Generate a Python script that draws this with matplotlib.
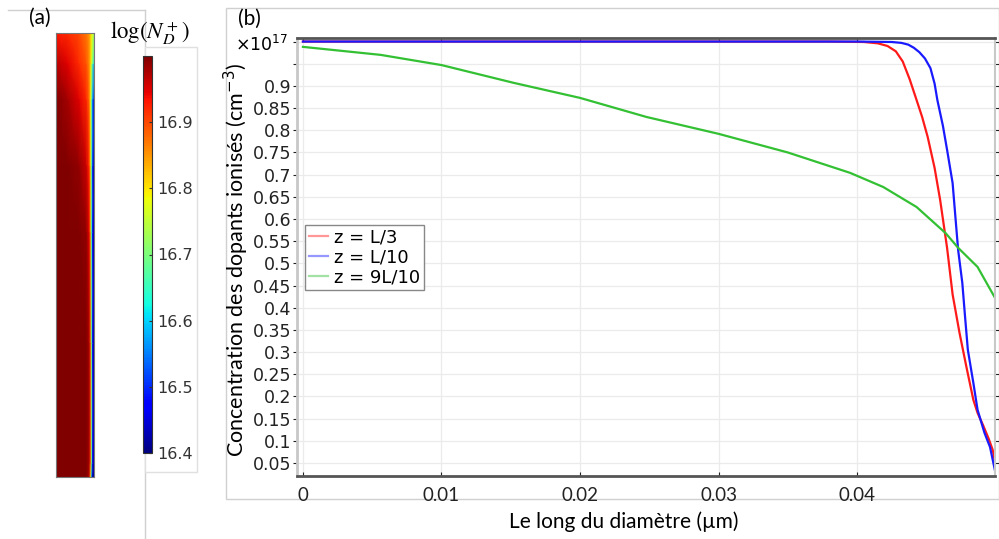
import matplotlib
matplotlib.use("Agg")
import matplotlib.pyplot as plt
from matplotlib.patches import Rectangle
from matplotlib.lines import Line2D

# ---- panel (b) profiles (x in um, y in 1e17 cm^-3) ----
x_red = [0, 0.01, 0.02, 0.03, 0.038, 0.0405, 0.0415, 0.0422, 0.0428, 0.0433, 0.0438,
         0.0443, 0.0447, 0.0451, 0.0456, 0.0460, 0.0465, 0.0469, 0.0474, 0.0479,
         0.0484, 0.0487, 0.0491, 0.0495, 0.0498, 0.0500]
y_red = [1.0, 1.0, 1.0, 1.0, 1.0, 0.999, 0.996, 0.99, 0.978, 0.955, 0.915,
         0.868, 0.83, 0.785, 0.715, 0.643, 0.535, 0.43, 0.343, 0.266,
         0.192, 0.163, 0.135, 0.105, 0.079, 0.045]

x_blue = [0, 0.01, 0.02, 0.03, 0.04, 0.0425, 0.0432, 0.0437, 0.0441, 0.0445, 0.0449,
          0.0453, 0.0456, 0.0458, 0.0462, 0.0465, 0.0469, 0.0471, 0.0473, 0.0476,
          0.0478, 0.0480, 0.0484, 0.0487, 0.0492, 0.0496, 0.0500]
y_blue = [1.0, 1.0, 1.0, 1.0, 1.0, 0.999, 0.997, 0.993, 0.986, 0.976, 0.962,
          0.94, 0.905, 0.868, 0.81, 0.756, 0.681, 0.605, 0.53, 0.456,
          0.379, 0.305, 0.23, 0.17, 0.118, 0.086, 0.027]

x_green = [0, 0.0056, 0.01, 0.0152, 0.02, 0.0248, 0.03, 0.035, 0.0395, 0.0419,
           0.0443, 0.0464, 0.0473, 0.0487, 0.0500]
y_green = [0.988, 0.970, 0.947, 0.907, 0.873, 0.830, 0.792, 0.750, 0.704, 0.672,
           0.627, 0.568, 0.535, 0.492, 0.42]

labels = ["z = L/3", "z = L/10", "z = 9L/10"]
x_ticks = [0, 0.01, 0.02, 0.03, 0.04]
x_tick_labels = ["0", "0.01", "0.02", "0.03", "0.04"]
y_ticks = [0.05, 0.1, 0.15, 0.2, 0.25, 0.3, 0.35, 0.4, 0.45, 0.5, 0.55, 0.6,
           0.65, 0.7, 0.75, 0.8, 0.85, 0.9, 0.95, 1.0]
y_tick_labels = ["0.05", "0.1", "0.15", "0.2", "0.25", "0.3", "0.35", "0.4", "0.45",
                 "0.5", "0.55", "0.6", "0.65", "0.7", "0.75", "0.8", "0.85", "0.9",
                 "", ""]

# ---- panel (a) field log10(N_D+), coarse grid ----
field_r = [0, 0.3, 0.6, 0.8, 0.87, 0.91, 0.94, 0.97, 1.0]
field_z = [1.0, 0.93, 0.85, 0.7, 0.55, 0.3, 0.03, 0.0]   # 1 = top of the wire
field_log = [
    [16.93, 16.92, 16.90, 16.87, 16.85, 16.82, 16.80, 16.78, 16.76],
    [16.97, 16.95, 16.92, 16.89, 16.86, 16.82, 16.76, 16.68, 16.60],
    [17.00, 16.98, 16.95, 16.92, 16.88, 16.80, 16.68, 16.55, 16.45],
    [17.00, 17.00, 16.99, 16.96, 16.92, 16.82, 16.68, 16.50, 16.40],
    [17.00, 17.00, 17.00, 16.99, 16.95, 16.85, 16.66, 16.48, 16.40],
    [17.00, 17.00, 17.00, 17.00, 16.98, 16.90, 16.70, 16.48, 16.40],
    [17.00, 17.00, 17.00, 17.00, 16.98, 16.90, 16.70, 16.48, 16.40],
    [17.00, 17.00, 17.00, 17.00, 16.97, 16.80, 16.55, 16.42, 16.40],
]
cbar_ticks = [16.4, 16.5, 16.6, 16.7, 16.8, 16.9]

W, H = 999, 539


def box(x0, y0, x1, y1):
    # pixel box (top-left origin) -> figure fraction rect
    return [x0 / W, 1 - y1 / H, (x1 - x0) / W, (y1 - y0) / H]


fig = plt.figure(figsize=(W / 100, H / 100), dpi=100)
fig.patch.set_facecolor("white")

frame_col = "#d0d0d0"
# panel frames (behind the axes)
fig.add_artist(Line2D([8 / W, 145 / W], [1 - 10 / H, 1 - 10 / H], color=frame_col,
                      lw=1, zorder=-2))
fig.add_artist(Line2D([145 / W, 145 / W], [1 - 10 / H, 0], color=frame_col, lw=1,
                      zorder=-2))
fig.add_artist(Rectangle((226 / W, 1 - 499 / H), (999 - 226) / W, (499 - 8) / H,
                         transform=fig.transFigure, fill=False, ec=frame_col, lw=1,
                         zorder=-2))
fig.add_artist(Rectangle((145 / W, 1 - 472 / H), 52 / W, 425 / H,
                         transform=fig.transFigure, fill=True, fc="white",
                         ec="#e0e0e0", lw=1, zorder=-1))

# -------------------------------
# Panel (a): field map + colorbar
# -------------------------------
ax_a = fig.add_axes(box(56, 33, 94, 477))
mesh = ax_a.pcolormesh(field_r, field_z, field_log, shading="gouraud",
                       cmap="jet", vmin=16.4, vmax=17.0)
ax_a.set_xlim(0, 1)
ax_a.set_ylim(0, 1)
ax_a.set_xticks([])
ax_a.set_yticks([])
for s in ax_a.spines.values():
    s.set_color("#777777")
    s.set_linewidth(0.8)

cax = fig.add_axes(box(143, 56, 152, 453))
cb = fig.colorbar(mesh, cax=cax, ticks=cbar_ticks)
cb.ax.tick_params(labelsize=11.5, length=2, direction="in", colors="#333333")
cb.outline.set_edgecolor("#333333")
cb.outline.set_linewidth(0.8)
fig.text(150 / W, 1 - 33 / H, r"$\log(N_D^+)$", fontsize=16.5, ha="center",
         va="center", math_fontfamily="stix")
fig.text(40 / W, 1 - 18 / H, "(a)", fontsize=15, family="Lato", ha="center",
         va="center")

# -------------------------------
# Panel (b): profiles
# -------------------------------
ax = fig.add_axes(box(297, 38, 995, 476))
ax.plot(x_red, y_red, color="#ff1a1a", lw=1.6, label=labels[0])
ax.plot(x_blue, y_blue, color="#1a1aff", lw=1.6, label=labels[1])
ax.plot(x_green, y_green, color="#33c033", lw=1.6, label=labels[2])

ax.set_xlim(-0.00043, 0.04996)
ax.set_ylim(0.0207, 1.008)
ax.set_xticks(x_ticks)
ax.set_xticklabels(x_tick_labels, family="Lato", fontsize=13.5)
ax.set_yticks(y_ticks)
ax.set_yticklabels(y_tick_labels, fontsize=12.5)
ax.grid(True, color="#ebebeb", lw=0.9)
ax.set_axisbelow(True)
ax.tick_params(axis="y", direction="out", length=3, colors="#222222", pad=1,
               right=True)
ax.tick_params(axis="x", direction="in", length=3, colors="#222222", pad=8,
               top=True)
ax.spines["top"].set_color("#555555")
ax.spines["top"].set_linewidth(2)
ax.spines["bottom"].set_color("#555555")
ax.spines["bottom"].set_linewidth(2)
ax.spines["left"].set_color("#c8c8c8")
ax.spines["left"].set_linewidth(2)
ax.spines["right"].set_color("#c8c8c8")
ax.spines["right"].set_linewidth(1.5)

leg = ax.legend(loc="upper left", bbox_to_anchor=(0.0115, 0.573), borderaxespad=0,
                fontsize=13, fancybox=False, edgecolor="#888888", framealpha=1,
                handlelength=1.1, handletextpad=0.3, labelspacing=0.1,
                borderpad=0.2)
for h in leg.legend_handles:
    h.set_alpha(0.45)

fig.text(288 / W, 1 - 45 / H, r"$\times10^{17}$", fontsize=12.5, ha="right",
         va="center", math_fontfamily="dejavusans")
fig.text(236 / W, 1 - 260 / H, "Concentration des dopants ionisés (cm$^{-3}$)",
         rotation=90, family="Lato", fontsize=15.5, ha="center", va="center",
         math_fontfamily="dejavusans")
fig.text(624 / W, 1 - 522 / H, "Le long du diamètre (µm)", family="Lato",
         fontsize=15, ha="center", va="center")
fig.text(249 / W, 1 - 19 / H, "(b)", fontsize=15, family="Lato", ha="center",
         va="center")

fig.savefig("out.png", dpi=100)
